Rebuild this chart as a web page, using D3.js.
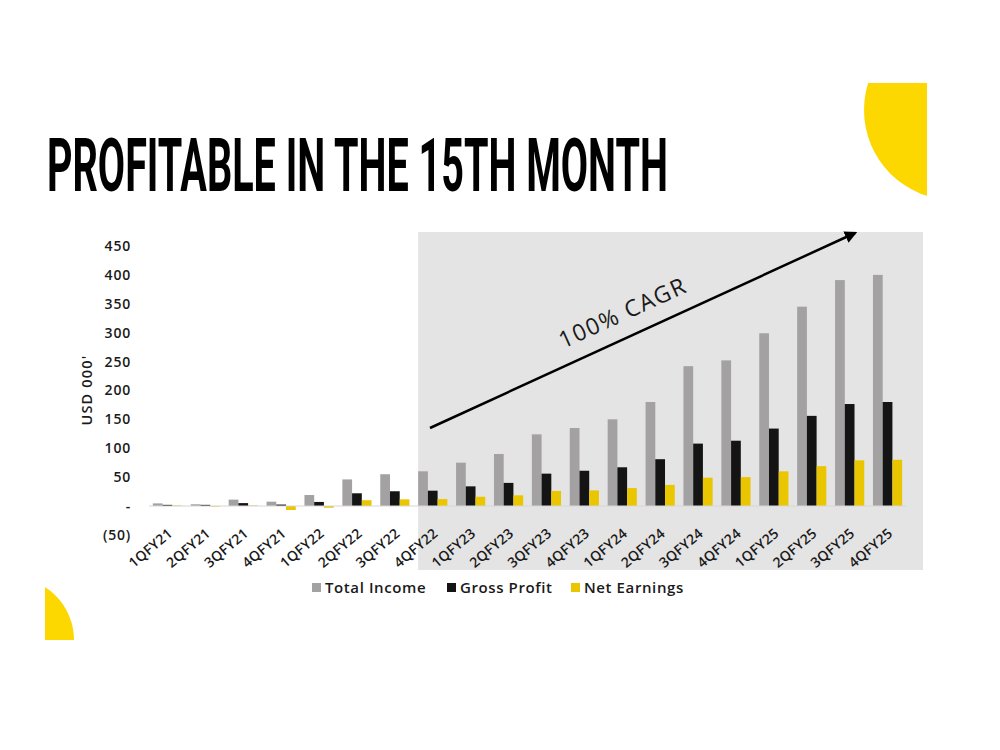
<!DOCTYPE html>
<html lang="en">
<head>
    <meta charset="utf-8" />
    <title>Profitable in the 15th month</title>
    <script src="https://d3js.org/d3.v7.min.js"></script>
    <style>
        body { margin: 0; background: #fff; }
        svg text { font-family: "Open Sans", "DejaVu Sans", sans-serif; }
    </style>
</head>
<body>
<svg width="1000" height="750"></svg>
<script>
    // data (USD 000')
    var quarters = ["1QFY21", "2QFY21", "3QFY21", "4QFY21", "1QFY22", "2QFY22", "3QFY22", "4QFY22",
        "1QFY23", "2QFY23", "3QFY23", "4QFY23", "1QFY24", "2QFY24", "3QFY24", "4QFY24",
        "1QFY25", "2QFY25", "3QFY25", "4QFY25"];
    var totalIncome = [4.5, 3, 11, 7.5, 19, 46, 55, 60, 75, 90, 124, 135, 150, 180, 242, 252, 299, 345, 391, 400];
    var grossProfit = [2, 2, 5, 2.5, 7, 22, 25.5, 26.5, 34, 40, 56, 61, 67, 81, 108, 113, 134, 156, 176.5, 180];
    var netEarnings = [1, -1, 1, -7, -3, 10, 11.5, 12, 16, 18.5, 26, 27, 31, 36.5, 49, 50, 60, 69, 79, 80];
    var seriesNames = ["Total Income", "Gross Profit", "Net Earnings"];
    var yTicks = [-50, 0, 50, 100, 150, 200, 250, 300, 350, 400, 450];

    var colors = { "Total Income": "#a3a1a1", "Gross Profit": "#141414", "Net Earnings": "#e9c600" };

    var svg = d3.select("svg");

    // yellow decorations
    var defs = svg.append("defs");
    defs.append("clipPath").attr("id", "clipTop")
        .append("rect").attr("x", 840).attr("y", 83).attr("width", 87).attr("height", 120);
    defs.append("clipPath").attr("id", "clipBottom")
        .append("rect").attr("x", 45).attr("y", 570).attr("width", 40).attr("height", 70);
    svg.append("circle").attr("cx", 954).attr("cy", 110).attr("r", 90)
        .attr("fill", "#fcd800").attr("clip-path", "url(#clipTop)");
    svg.append("circle").attr("cx", 11).attr("cy", 640).attr("r", 63)
        .attr("fill", "#fcd800").attr("clip-path", "url(#clipBottom)");

    // title, squeezed horizontally to look like a condensed face
    var title = svg.append("text")
        .style("font-family", "'Liberation Sans Narrow', 'Roboto', sans-serif")
        .style("font-weight", 700)
        .style("font-size", "75px")
        .attr("fill", "#000")
        .text("PROFITABLE IN THE 15TH MONTH");
    var titleLen = title.node().getComputedTextLength();
    title.attr("transform", "translate(47,191) scale(" + (621 / titleLen) + ",1)");

    var x0 = d3.scaleBand().domain(quarters).range([148.5, 906.5]).paddingInner(0.23).paddingOuter(0.115);
    var x1 = d3.scaleBand().domain(seriesNames).range([0, x0.bandwidth()]);
    var y = d3.scaleLinear().domain([0, 450]).range([506, 246]);

    // shaded forecast area
    svg.append("rect")
        .attr("x", x0("4QFY22")).attr("y", 232)
        .attr("width", 923 - x0("4QFY22")).attr("height", 338)
        .attr("fill", "#e4e4e4");

    // y axis
    var yAxis = svg.append("g")
        .attr("transform", "translate(137,0)")
        .call(d3.axisLeft(y).tickValues(yTicks).tickSize(0).tickPadding(6)
            .tickFormat(function (d) { return d === 0 ? "-" : d < 0 ? "(" + (-d) + ")" : d; }));
    yAxis.select(".domain").remove();
    yAxis.selectAll("text")
        .style("font-size", "14px").style("font-weight", 600).style("letter-spacing", "0.8px")
        .attr("fill", "#1a1a1a");

    svg.append("text")
        .attr("transform", "translate(92,390) rotate(-90)")
        .attr("text-anchor", "middle")
        .style("font-size", "14.5px").style("font-weight", 600).style("letter-spacing", "1.2px")
        .attr("fill", "#1a1a1a")
        .text("USD 000'");

    // bars
    var rows = quarters.map(function (q, i) {
        return { q: q, values: [totalIncome[i], grossProfit[i], netEarnings[i]] };
    });
    var groups = svg.append("g").selectAll("g")
        .data(rows).join("g")
        .attr("transform", function (d) { return "translate(" + x0(d.q) + ",0)"; });
    groups.selectAll("rect")
        .data(function (d) { return d.values.map(function (v, k) { return { key: seriesNames[k], value: v }; }); })
        .join("rect")
        .attr("x", function (d) { return x1(d.key); })
        .attr("y", function (d) { return y(Math.max(0, d.value)); })
        .attr("width", x1.bandwidth())
        .attr("height", function (d) { return Math.abs(y(d.value) - y(0)); })
        .attr("fill", function (d) { return colors[d.key]; });

    // x axis line + rotated labels
    svg.append("line")
        .attr("x1", 149).attr("x2", 906).attr("y1", y(0)).attr("y2", y(0))
        .attr("stroke", "#d6d6d6").attr("stroke-width", 1);
    svg.append("g").selectAll("text")
        .data(quarters).join("text")
        .attr("transform", function (d) {
            return "translate(" + (x0(d) + x0.bandwidth() / 2 + 6) + ",535) rotate(-40)";
        })
        .attr("text-anchor", "end")
        .style("font-size", "14px").style("font-weight", 600).style("letter-spacing", "0.2px")
        .attr("fill", "#1a1a1a")
        .text(function (d) { return d; });

    // CAGR arrow
    defs.append("marker").attr("id", "arrowHead")
        .attr("viewBox", "0 0 10 10").attr("refX", 8).attr("refY", 5)
        .attr("markerWidth", 5).attr("markerHeight", 5).attr("orient", "auto")
        .append("path").attr("d", "M0,0L10,5L0,10z").attr("fill", "#000");
    svg.append("line")
        .attr("x1", 430).attr("y1", 428).attr("x2", 855).attr("y2", 233)
        .attr("stroke", "#000").attr("stroke-width", 2.5)
        .attr("marker-end", "url(#arrowHead)");
    svg.append("text")
        .attr("transform", "translate(626,320) rotate(-24.6)")
        .attr("text-anchor", "middle")
        .style("font-size", "23px").style("font-weight", 400).style("letter-spacing", "1.5px")
        .attr("fill", "#1a1a1a")
        .text("100% CAGR");

    // legend
    var legendX = [312, 447, 571];
    var legend = svg.append("g").selectAll("g")
        .data(seriesNames).join("g")
        .attr("transform", function (d, i) { return "translate(" + legendX[i] + ",588)"; });
    legend.append("rect")
        .attr("x", 0).attr("y", -5).attr("width", 9).attr("height", 9)
        .attr("fill", function (d) { return colors[d]; });
    legend.append("text")
        .attr("x", 13).attr("y", 5)
        .style("font-size", "15px").style("font-weight", 600).style("letter-spacing", "0.6px")
        .attr("fill", "#1a1a1a")
        .text(function (d) { return d; });
</script>
</body>
</html>
